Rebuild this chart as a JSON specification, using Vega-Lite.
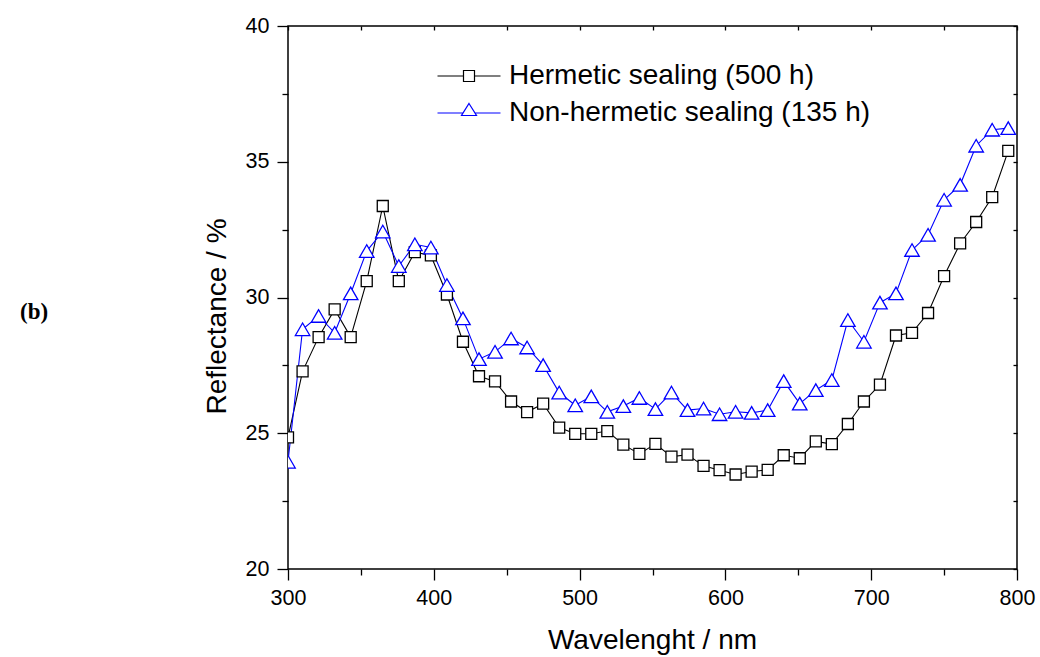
{
  "$schema": "https://vega.github.io/schema/vega-lite/v6.json",
  "width": 729,
  "height": 543,
  "autosize": "none",
  "padding": {"left": 288, "top": 26, "right": 23, "bottom": 88},
  "background": "white",
  "config": {
    "view": {"stroke": "black", "strokeWidth": 1.5},
    "font": "Liberation Sans",
    "axis": {
      "grid": false, "domain": false, "tickColor": "black", "tickWidth": 1.3,
      "labelColor": "black", "titleColor": "black",
      "labelFont": "Liberation Sans", "titleFont": "Liberation Sans",
      "labelFontSize": 21.5, "titleFontSize": 28, "titleFontWeight": "normal",
      "labelFlush": false, "labelOverlap": false
    }
  },
  "title": {
    "text": "(b)", "orient": "top", "anchor": "start", "frame": "group",
    "align": "left", "baseline": "middle", "dx": -268, "dy": 320, "offset": 0,
    "font": "Liberation Serif", "fontSize": 23, "fontWeight": "bold", "color": "black"
  },
  "data": {"values": [
    {"wl": 300, "series": "Hermetic sealing (500 h)", "r": 24.85},
    {"wl": 310, "series": "Hermetic sealing (500 h)", "r": 27.28},
    {"wl": 321, "series": "Hermetic sealing (500 h)", "r": 28.54},
    {"wl": 332, "series": "Hermetic sealing (500 h)", "r": 29.56},
    {"wl": 343, "series": "Hermetic sealing (500 h)", "r": 28.54},
    {"wl": 354, "series": "Hermetic sealing (500 h)", "r": 30.60},
    {"wl": 365, "series": "Hermetic sealing (500 h)", "r": 33.37},
    {"wl": 376, "series": "Hermetic sealing (500 h)", "r": 30.60},
    {"wl": 387, "series": "Hermetic sealing (500 h)", "r": 31.67},
    {"wl": 398, "series": "Hermetic sealing (500 h)", "r": 31.55},
    {"wl": 409, "series": "Hermetic sealing (500 h)", "r": 30.11},
    {"wl": 420, "series": "Hermetic sealing (500 h)", "r": 28.37},
    {"wl": 431, "series": "Hermetic sealing (500 h)", "r": 27.10},
    {"wl": 442, "series": "Hermetic sealing (500 h)", "r": 26.91},
    {"wl": 453, "series": "Hermetic sealing (500 h)", "r": 26.17},
    {"wl": 464, "series": "Hermetic sealing (500 h)", "r": 25.78},
    {"wl": 475, "series": "Hermetic sealing (500 h)", "r": 26.09},
    {"wl": 486, "series": "Hermetic sealing (500 h)", "r": 25.21},
    {"wl": 497, "series": "Hermetic sealing (500 h)", "r": 24.98},
    {"wl": 508, "series": "Hermetic sealing (500 h)", "r": 24.98},
    {"wl": 519, "series": "Hermetic sealing (500 h)", "r": 25.08},
    {"wl": 530, "series": "Hermetic sealing (500 h)", "r": 24.58},
    {"wl": 541, "series": "Hermetic sealing (500 h)", "r": 24.24},
    {"wl": 552, "series": "Hermetic sealing (500 h)", "r": 24.61},
    {"wl": 563, "series": "Hermetic sealing (500 h)", "r": 24.14},
    {"wl": 574, "series": "Hermetic sealing (500 h)", "r": 24.21},
    {"wl": 585, "series": "Hermetic sealing (500 h)", "r": 23.80},
    {"wl": 596, "series": "Hermetic sealing (500 h)", "r": 23.64},
    {"wl": 607, "series": "Hermetic sealing (500 h)", "r": 23.48},
    {"wl": 618, "series": "Hermetic sealing (500 h)", "r": 23.59},
    {"wl": 629, "series": "Hermetic sealing (500 h)", "r": 23.65},
    {"wl": 640, "series": "Hermetic sealing (500 h)", "r": 24.19},
    {"wl": 651, "series": "Hermetic sealing (500 h)", "r": 24.08},
    {"wl": 662, "series": "Hermetic sealing (500 h)", "r": 24.70},
    {"wl": 673, "series": "Hermetic sealing (500 h)", "r": 24.60},
    {"wl": 684, "series": "Hermetic sealing (500 h)", "r": 25.34},
    {"wl": 695, "series": "Hermetic sealing (500 h)", "r": 26.17},
    {"wl": 706, "series": "Hermetic sealing (500 h)", "r": 26.79},
    {"wl": 717, "series": "Hermetic sealing (500 h)", "r": 28.60},
    {"wl": 728, "series": "Hermetic sealing (500 h)", "r": 28.70},
    {"wl": 739, "series": "Hermetic sealing (500 h)", "r": 29.43},
    {"wl": 750, "series": "Hermetic sealing (500 h)", "r": 30.79},
    {"wl": 761, "series": "Hermetic sealing (500 h)", "r": 31.99},
    {"wl": 772, "series": "Hermetic sealing (500 h)", "r": 32.78},
    {"wl": 783, "series": "Hermetic sealing (500 h)", "r": 33.70},
    {"wl": 794, "series": "Hermetic sealing (500 h)", "r": 35.40},
    {"wl": 300, "series": "Non-hermetic sealing (135 h)", "r": 23.95},
    {"wl": 310, "series": "Non-hermetic sealing (135 h)", "r": 28.83},
    {"wl": 321, "series": "Non-hermetic sealing (135 h)", "r": 29.32},
    {"wl": 332, "series": "Non-hermetic sealing (135 h)", "r": 28.70},
    {"wl": 343, "series": "Non-hermetic sealing (135 h)", "r": 30.15},
    {"wl": 354, "series": "Non-hermetic sealing (135 h)", "r": 31.71},
    {"wl": 365, "series": "Non-hermetic sealing (135 h)", "r": 32.43},
    {"wl": 376, "series": "Non-hermetic sealing (135 h)", "r": 31.16},
    {"wl": 387, "series": "Non-hermetic sealing (135 h)", "r": 31.96},
    {"wl": 398, "series": "Non-hermetic sealing (135 h)", "r": 31.84},
    {"wl": 409, "series": "Non-hermetic sealing (135 h)", "r": 30.46},
    {"wl": 420, "series": "Non-hermetic sealing (135 h)", "r": 29.23},
    {"wl": 431, "series": "Non-hermetic sealing (135 h)", "r": 27.73},
    {"wl": 442, "series": "Non-hermetic sealing (135 h)", "r": 28.00},
    {"wl": 453, "series": "Non-hermetic sealing (135 h)", "r": 28.49},
    {"wl": 464, "series": "Non-hermetic sealing (135 h)", "r": 28.16},
    {"wl": 475, "series": "Non-hermetic sealing (135 h)", "r": 27.51},
    {"wl": 486, "series": "Non-hermetic sealing (135 h)", "r": 26.50},
    {"wl": 497, "series": "Non-hermetic sealing (135 h)", "r": 26.03},
    {"wl": 508, "series": "Non-hermetic sealing (135 h)", "r": 26.36},
    {"wl": 519, "series": "Non-hermetic sealing (135 h)", "r": 25.79},
    {"wl": 530, "series": "Non-hermetic sealing (135 h)", "r": 26.00},
    {"wl": 541, "series": "Non-hermetic sealing (135 h)", "r": 26.30},
    {"wl": 552, "series": "Non-hermetic sealing (135 h)", "r": 25.89},
    {"wl": 563, "series": "Non-hermetic sealing (135 h)", "r": 26.50},
    {"wl": 574, "series": "Non-hermetic sealing (135 h)", "r": 25.85},
    {"wl": 585, "series": "Non-hermetic sealing (135 h)", "r": 25.91},
    {"wl": 596, "series": "Non-hermetic sealing (135 h)", "r": 25.70},
    {"wl": 607, "series": "Non-hermetic sealing (135 h)", "r": 25.79},
    {"wl": 618, "series": "Non-hermetic sealing (135 h)", "r": 25.75},
    {"wl": 629, "series": "Non-hermetic sealing (135 h)", "r": 25.85},
    {"wl": 640, "series": "Non-hermetic sealing (135 h)", "r": 26.92},
    {"wl": 651, "series": "Non-hermetic sealing (135 h)", "r": 26.09},
    {"wl": 662, "series": "Non-hermetic sealing (135 h)", "r": 26.59},
    {"wl": 673, "series": "Non-hermetic sealing (135 h)", "r": 26.96},
    {"wl": 684, "series": "Non-hermetic sealing (135 h)", "r": 29.17},
    {"wl": 695, "series": "Non-hermetic sealing (135 h)", "r": 28.37},
    {"wl": 706, "series": "Non-hermetic sealing (135 h)", "r": 29.81},
    {"wl": 717, "series": "Non-hermetic sealing (135 h)", "r": 30.15},
    {"wl": 728, "series": "Non-hermetic sealing (135 h)", "r": 31.75},
    {"wl": 739, "series": "Non-hermetic sealing (135 h)", "r": 32.31},
    {"wl": 750, "series": "Non-hermetic sealing (135 h)", "r": 33.60},
    {"wl": 761, "series": "Non-hermetic sealing (135 h)", "r": 34.15},
    {"wl": 772, "series": "Non-hermetic sealing (135 h)", "r": 35.59},
    {"wl": 783, "series": "Non-hermetic sealing (135 h)", "r": 36.18},
    {"wl": 794, "series": "Non-hermetic sealing (135 h)", "r": 36.24}
  ]},
  "resolve": {
    "scale": {"stroke": "independent", "shape": "independent", "size": "independent"},
    "axis": {"x": "independent", "y": "independent"}
  },
  "layer": [
    {
      "mark": {"type": "line", "strokeWidth": 1.1, "clip": true},
      "encoding": {
        "x": {"field": "wl", "type": "quantitative",
          "scale": {"domain": [300, 800], "nice": false, "zero": false},
          "axis": {"orient": "bottom", "values": [300, 350, 400, 450, 500, 550, 600, 650, 700, 750, 800],
            "tickSize": {"condition": {"test": "datum.value % 100 === 0", "value": 11}, "value": 6},
            "labelExpr": "datum.value % 100 === 0 ? datum.label : ''",
            "labelPadding": 7,
            "title": "Wavelenght / nm", "titleX": 364, "titleY": 79, "titleBaseline": "alphabetic"}},
        "y": {"field": "r", "type": "quantitative",
          "scale": {"domain": [20, 40], "nice": false, "zero": false},
          "axis": {"orient": "left", "values": [20, 22.5, 25, 27.5, 30, 32.5, 35, 37.5, 40],
            "tickSize": {"condition": {"test": "datum.value % 5 === 0", "value": 11}, "value": 6},
            "labelExpr": "datum.value % 5 === 0 ? datum.label : ''",
            "labelPadding": 8,
            "title": "Reflectance / %", "titleX": -63, "titleY": 290, "titleBaseline": "alphabetic"}},
        "stroke": {"field": "series", "type": "nominal",
          "scale": {"domain": ["Hermetic sealing (500 h)", "Non-hermetic sealing (135 h)"], "range": ["#000000", "#0000ff"]},
          "legend": null}
      }
    },
    {
      "mark": {"type": "point", "filled": false, "fill": "white", "strokeWidth": 1.3, "opacity": 1, "clip": true},
      "encoding": {
        "x": {"field": "wl", "type": "quantitative", "axis": null},
        "y": {"field": "r", "type": "quantitative", "axis": null},
        "stroke": {"field": "series", "type": "nominal",
          "scale": {"domain": ["Hermetic sealing (500 h)", "Non-hermetic sealing (135 h)"], "range": ["#000000", "#0000ff"]},
          "legend": null},
        "shape": {"field": "series", "type": "nominal",
          "scale": {"domain": ["Hermetic sealing (500 h)", "Non-hermetic sealing (135 h)"], "range": ["square", "triangle-up"]},
          "legend": null},
        "size": {"field": "series", "type": "nominal",
          "scale": {"domain": ["Hermetic sealing (500 h)", "Non-hermetic sealing (135 h)"], "range": [121, 210]},
          "legend": null}
      }
    },
    {
      "transform": [{"filter": "false"}],
      "mark": {"type": "point", "filled": false, "fill": "white", "strokeWidth": 1.2, "opacity": 1},
      "encoding": {
        "x": {"field": "wl", "type": "quantitative",
          "axis": {"orient": "top", "values": [300, 350, 400, 450, 500, 550, 600, 650, 700, 750, 800], "offset": -4, "tickSize": 4, "labels": false, "title": null}},
        "y": {"field": "r", "type": "quantitative",
          "axis": {"orient": "right", "values": [20, 22.5, 25, 27.5, 30, 32.5, 35, 37.5, 40], "offset": -4, "tickSize": 4, "labels": false, "title": null}},
        "stroke": {"field": "series", "type": "nominal",
          "scale": {"domain": ["Hermetic sealing (500 h)", "Non-hermetic sealing (135 h)"], "range": ["#000000", "#0000ff"]},
          "legend": {"title": null, "orient": "none", "legendX": 167, "legendY": 36, "padding": 0,
            "symbolSize": 100, "symbolStrokeWidth": 1.2, "symbolFillColor": "white",
            "labelFont": "Liberation Sans", "labelFontSize": 28, "labelColor": "black", "labelOffset": 26, "rowPadding": 9, "labelLimit": 600}},
        "shape": {"field": "series", "type": "nominal",
          "scale": {"domain": ["Hermetic sealing (500 h)", "Non-hermetic sealing (135 h)"],
            "range": ["M-6.3,0H-1.1M1.1,0H6.3M-1.1,-1.1H1.1V1.1H-1.1Z", "M-6.3,0H-1.19M1.19,0H6.3M0,-1.9L1.5,0.5H-1.5Z"]},
          "legend": {"title": null, "orient": "none", "legendX": 167, "legendY": 36, "padding": 0,
            "symbolSize": 100, "symbolStrokeWidth": 1.2, "symbolFillColor": "white",
            "labelFont": "Liberation Sans", "labelFontSize": 28, "labelColor": "black", "labelOffset": 26, "rowPadding": 9, "labelLimit": 600}}
      }
    }
  ]
}
